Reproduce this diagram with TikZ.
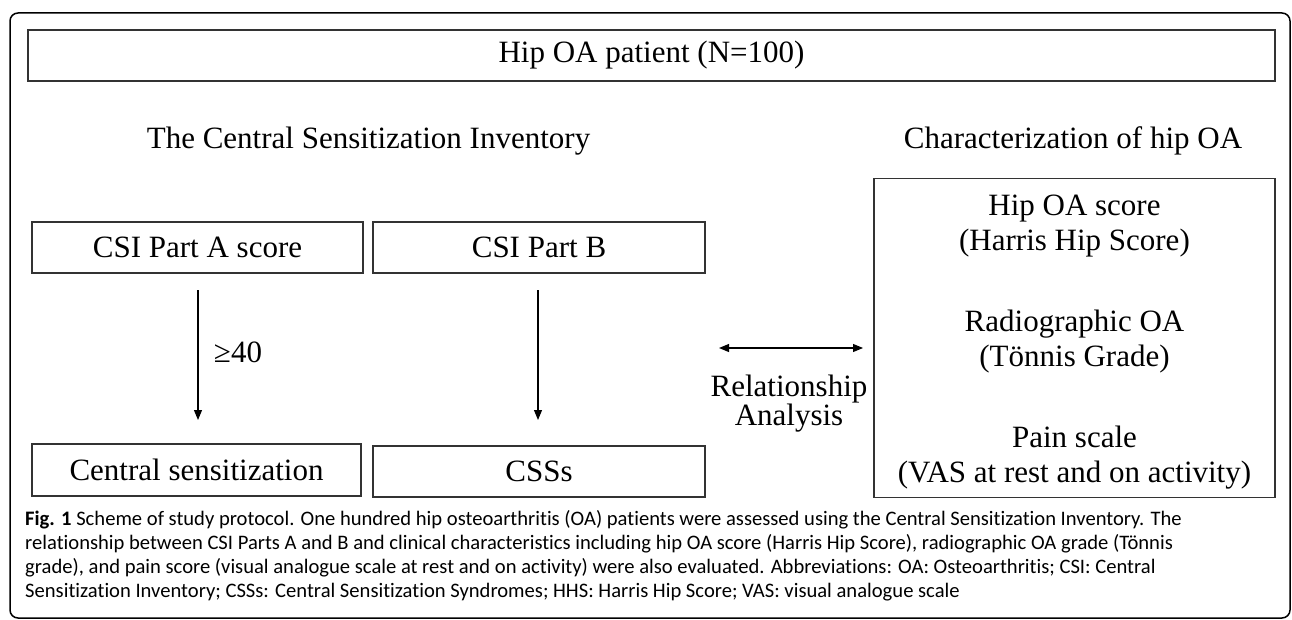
\documentclass[tikz,border=0pt]{standalone}
\usepackage{fontspec}
\setmainfont{Liberation Serif}
\newfontfamily\capfont[Ligatures=NoCommon]{Carlito}
\usetikzlibrary{arrows.meta}

\tikzset{
  blockbox/.style={draw=black!80, line width=1.1pt, minimum height=51pt, inner sep=0pt, font=\fontsize{31}{35}\selectfont},
  plaintext/.style={inner sep=0pt, font=\fontsize{31}{35}\selectfont},
  flow/.style={line width=1.1pt, -{Triangle[width=8pt,length=10pt]}},
  both flow/.style={line width=1.1pt, {Triangle[width=8pt,length=10pt]}-{Triangle[width=8pt,length=10pt]}},
}

\begin{document}
\begin{tikzpicture}[x=1pt,y=-1pt]
\useasboundingbox (0,0) rectangle (1292,620);

%Shape: Outer Frame
\draw [line width=1.5pt, rounded corners=8pt] (10,13) rectangle (1290,618);

%Shape: Boxes
\node [blockbox, minimum width=1247pt] (patient) at (651.5,55.5) {Hip OA patient (N=100)};
\node [blockbox, minimum width=331pt] (partA) at (197.5,247.5) {CSI Part A score};
\node [blockbox, minimum width=332pt] (partB) at (539,247.5) {CSI Part B};
\node [blockbox, minimum width=329pt, minimum height=52pt] (central) at (196.5,470) {Central sensitization};
\node [blockbox, minimum width=332pt] (css) at (539,471.5) {CSSs};
\node [blockbox, minimum width=401pt, minimum height=319pt] (clinical) at (1074.5,338) {};

% Text Node
\node [plaintext, align=center] (clinicalText) at (clinical.center |- 0,342) {Hip OA score\\(Harris Hip Score)\\[46pt]Radiographic OA\\(Tönnis Grade)\\[46pt]Pain scale\\(VAS at rest and on activity)};
% Text Node
\node [plaintext] (csiTitle) at (368.5,141) {The Central Sensitization Inventory};
% Text Node
\node [plaintext] (charTitle) at (1073,141) {Characterization of hip OA};
% Text Node
\node [plaintext] (cutoff) at (238,352) {≥40};
% Text Node
\node [plaintext, align=center] (relation) at (789,404) {Relationship\\[-6pt]Analysis};

%Straight Lines
\coordinate (aStart) at (198,290);
\coordinate (aEnd) at (198,420);
\coordinate (bStart) at (538,290);
\coordinate (bEnd) at (538,420);
\coordinate (relLeft) at (719,348);
\coordinate (relRight) at (863,348);
\draw [flow] (aStart) -- (aEnd);
\draw [flow] (bStart) -- (bEnd);
\draw [both flow] (relLeft) -- (relRight);

% Text Node
\node [anchor=north west, inner sep=0pt, align=left, font=\capfont\fontsize{20.6}{24}\selectfont] (caption) at (25,510) {\textbf{Fig. 1} Scheme of study protocol. One hundred hip osteoarthritis (OA) patients were assessed using the Central Sensitization Inventory. The\\relationship between CSI Parts A and B and clinical characteristics including hip OA score (Harris Hip Score), radiographic OA grade (Tönnis\\grade), and pain score (visual analogue scale at rest and on activity) were also evaluated. Abbreviations: OA: Osteoarthritis; CSI: Central\\Sensitization Inventory; CSSs: Central Sensitization Syndromes; HHS: Harris Hip Score; VAS: visual analogue scale};

\end{tikzpicture}
\end{document}
